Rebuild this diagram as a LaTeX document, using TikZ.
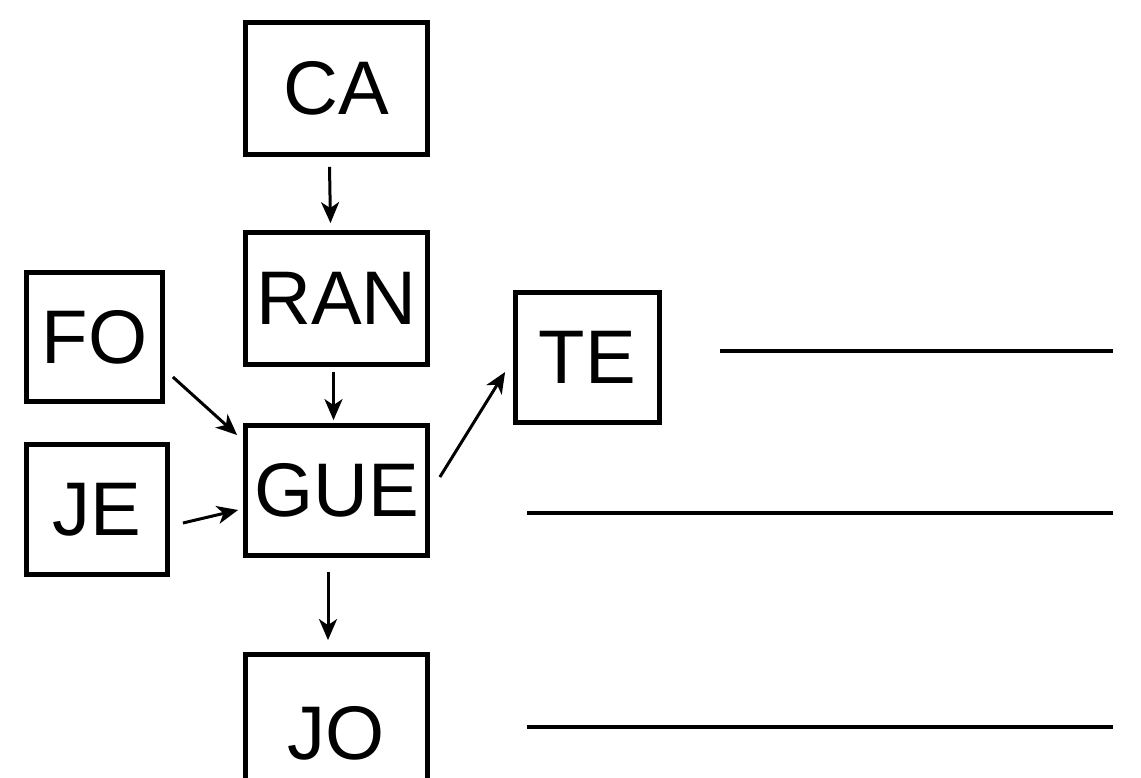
\documentclass[tikz,border=0pt]{standalone}
\usepackage{fontspec}
\setmainfont{Liberation Sans}
\usetikzlibrary{arrows.meta,calc}
\tikzset{
  tile/.style 2 args={rectangle, draw=black, line width=2.4pt, inner sep=0pt,
    minimum width=#1, minimum height=#2, align=center,
    font=\fontsize{38}{44}\selectfont},
  flow/.style={-{Stealth[length=10.5pt, width=9pt, inset=3pt]}, line width=1.5pt, draw=black},
  blank/.style={line width=1.6pt, draw=black},
}
\begin{document}
\begin{tikzpicture}[x=0.5pt, y=-0.5pt]
  \useasboundingbox (0,0) rectangle (1141,777);
  % boxes, placed at pixel centres
  \node[tile={91pt}{66pt}] (ca)  at (336.5,88.5)  {CA};
  \node[tile={91pt}{66pt}] (ran) at (336.5,298.5) {RAN};
  \node[tile={68pt}{64.5pt}] (fo) at (94.5,337)   {FO};
  \node[tile={70.5pt}{65pt}] (je) at (97,509.5)   {JE};
  \node[tile={91pt}{65pt}] (gue) at (336.5,490.5) {GUE};
  \node[tile={72pt}{65pt}] (te)  at (587.5,357.5) {TE};
  \node[tile={91pt}{79pt}] (jo)  at (336.5,733.5) {JO};
  % arrows
  \draw[flow] ($(ca.south)+(-7,10)$)    -- ($(ran.north)+(-6,-7)$);
  \draw[flow] ($(ran.south)+(-3,5)$)    -- ($(gue.north)+(-3,-3)$);
  \draw[flow] ($(fo.east)+(8,40)$)      -- ($(gue.west)+(-6,-55.5)$);
  \draw[flow] ($(je.east)+(13,13.5)$)   -- ($(gue.west)+(-5,19.5)$);
  \draw[flow] ($(gue.east)+(10,-13.5)$) -- ($(te.west)+(-8,14.5)$);
  \draw[flow] ($(gue.south)+(-8.5,14)$) -- ($(jo.north)+(-8.5,-12)$);
  % answer lines
  \draw[blank] (720,351) -- (1113,351);
  \draw[blank] (527,513) -- (1113,513);
  \draw[blank] (527,727) -- (1113,727);
\end{tikzpicture}
\end{document}
